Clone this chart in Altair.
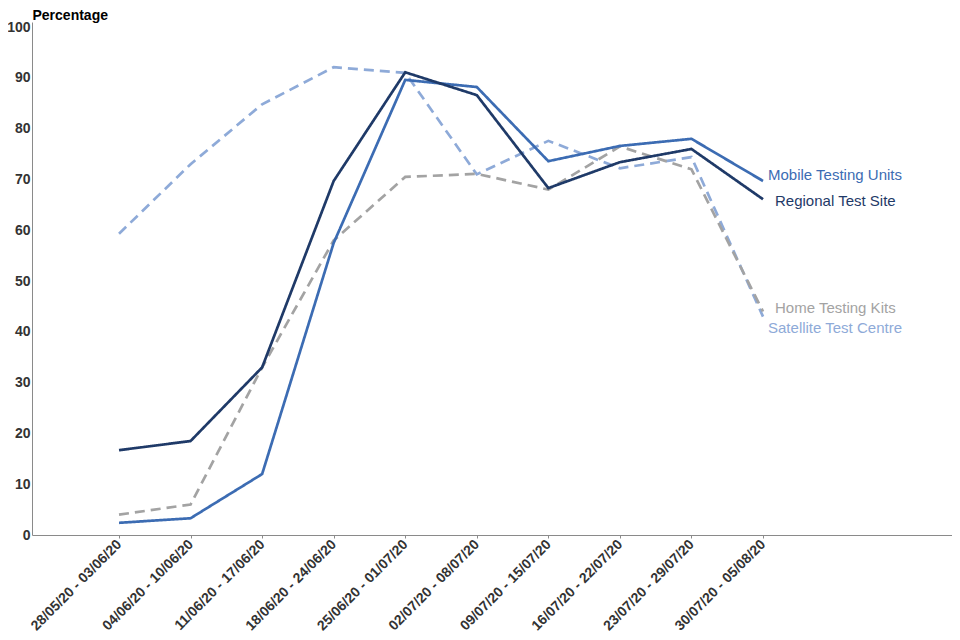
import altair as alt
import pandas as pd

weeks = ["28/05/20 - 03/06/20", "04/06/20 - 10/06/20", "11/06/20 - 17/06/20",
         "18/06/20 - 24/06/20", "25/06/20 - 01/07/20", "02/07/20 - 08/07/20",
         "09/07/20 - 15/07/20", "16/07/20 - 22/07/20", "23/07/20 - 29/07/20",
         "30/07/20 - 05/08/20"]

regional = [16.7, 18.5, 33.0, 69.7, 91.1, 86.6, 68.3, 73.4, 76.0, 66.1]
mobile = [2.4, 3.3, 12.0, 57.5, 89.6, 88.2, 73.6, 76.6, 78.0, 69.7]
home = [4.0, 6.0, 33.0, 58.0, 70.5, 71.1, 68.0, 76.5, 72.0, 44.0]
satellite = [59.3, 73.0, 84.8, 92.1, 91.0, 71.0, 77.6, 72.2, 74.4, 43.0]

series = [
    # name, values, color, dash, label dx, label dy
    ("Satellite Test Centre", satellite, "#8eaad8", [10, 6], 5, 11),
    ("Home Testing Kits", home, "#a3a3a3", [10, 6], 12, -4),
    ("Mobile Testing Units", mobile, "#3c6cb3", [1, 0], 5, -6),
    ("Regional Test Site", regional, "#1f3a68", [1, 0], 12, 2),
]

font = "Liberation Sans"
label_expr = "[" + ",".join("'" + w + "'" for w in weeks) + "][datum.value]"

x_enc = alt.X("idx:Q",
              scale=alt.Scale(domain=[-1.216, 11.641], nice=False, zero=False),
              axis=alt.Axis(values=list(range(len(weeks))), labelExpr=label_expr,
                            labelAngle=-45, labelAlign="right", labelBaseline="middle",
                            labelFontWeight="bold", labelFontSize=14, labelColor="#333333",
                            labelFont=font, labelPadding=4, grid=False,
                            domainColor="#8a8a8a", tickColor="#8a8a8a", tickSize=3,
                            title=None, labelOverlap=False, labelBound=False, labelFlush=False))
y_enc = alt.Y("value:Q",
              scale=alt.Scale(domain=[0, 101], nice=False),
              axis=alt.Axis(values=list(range(0, 101, 10)), grid=False, ticks=False,
                            labelFontWeight="bold", labelFontSize=14, labelColor="#333333",
                            labelFont=font, labelPadding=2, domainColor="#8a8a8a",
                            title="Percentage", titleAngle=0, titleAlign="left",
                            titleBaseline="top", titleX=0, titleY=-14,
                            titleFont=font, titleFontSize=14, titleFontWeight="bold",
                            titleColor="#000000"))

layers = []
for name, vals, color, dash, dx, dy in series:
    df = pd.DataFrame({"idx": list(range(len(weeks))), "week": weeks, "value": vals})
    line = alt.Chart(df).mark_line(color=color, strokeWidth=2.7, strokeDash=dash).encode(
        x=x_enc, y=y_enc)
    layers.append(line)

for name, vals, color, dash, dx, dy in series:
    ldf = pd.DataFrame({"idx": [len(weeks) - 1], "value": [vals[-1]], "name": [name]})
    txt = alt.Chart(ldf).mark_text(align="left", baseline="middle", dx=dx, dy=dy,
                                   fontSize=15, font=font, color=color).encode(
        x="idx:Q", y="value:Q", text="name:N")
    layers.append(txt)

chart = alt.layer(*layers).properties(
    width=920, height=513,
    autosize=alt.AutoSizeParams(type="none"),
    padding={"left": 24, "top": 14, "right": 0, "bottom": 100},
).configure_view(stroke=None)

chart.save("out.html", embed_options={"renderer": "svg", "actions": False})
